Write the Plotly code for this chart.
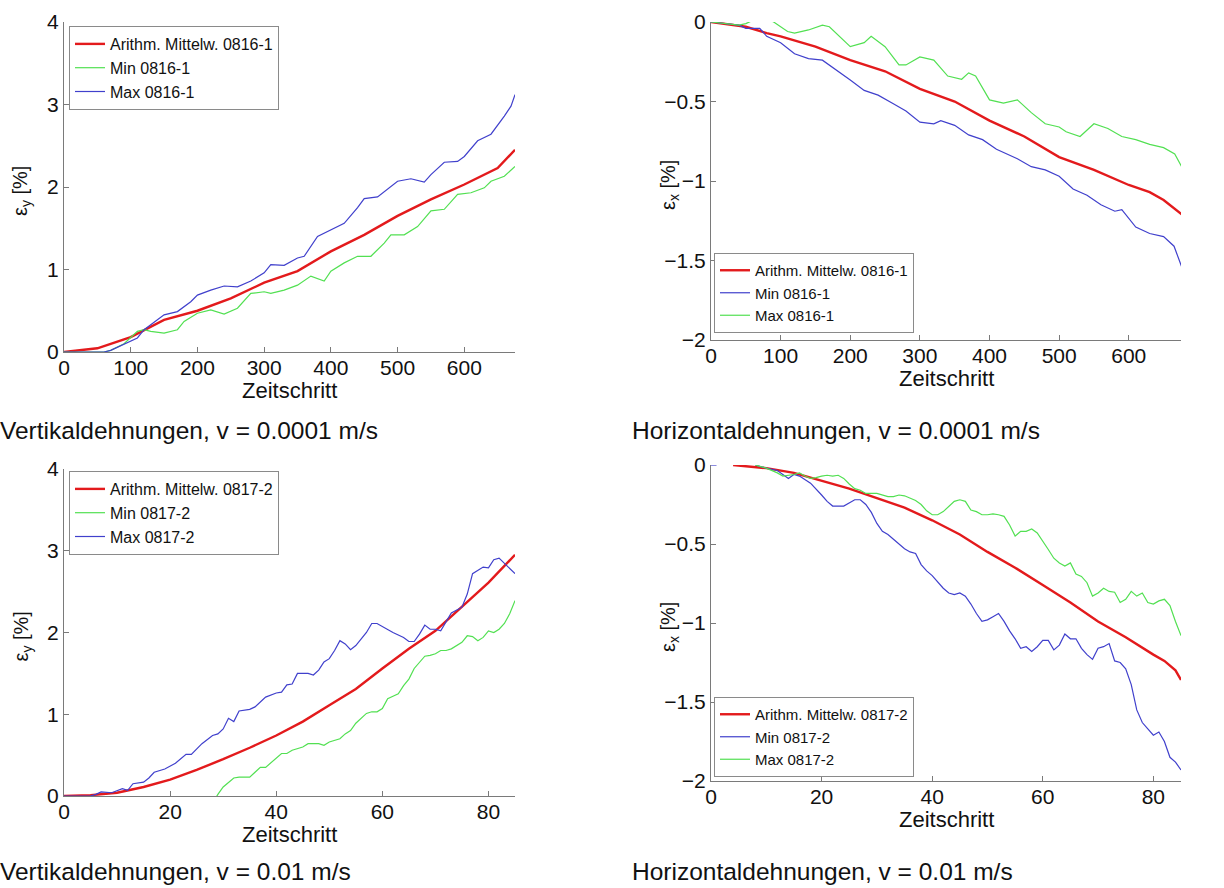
import plotly.graph_objects as go

# ---------------- Data ----------------
# Panel 1: Vertikaldehnungen, v = 0.0001 m/s
p1_mean_x = [0, 50, 100, 150, 200, 250, 300, 350, 400, 450, 500, 550, 600, 650, 676]
p1_mean_y = [0, 0.045, 0.18, 0.39, 0.50, 0.65, 0.84, 0.98, 1.22, 1.42, 1.65, 1.85, 2.03, 2.23, 2.45]
p1_min_x = [0, 30, 60, 70, 90, 110, 120, 130, 150, 170, 180, 200, 220, 240, 260, 280, 300, 310, 330,
            350, 370, 390, 400, 420, 440, 460, 480, 490, 510, 530, 550, 570, 590, 610, 630, 640, 660, 676]
p1_min_y = [0, 0.0, 0.0, 0.02, 0.10, 0.25, 0.27, 0.25, 0.23, 0.27, 0.37, 0.47, 0.51, 0.46, 0.53, 0.71, 0.73, 0.71, 0.75,
            0.81, 0.92, 0.86, 0.98, 1.08, 1.16, 1.16, 1.32, 1.42, 1.42, 1.52, 1.71, 1.73, 1.91, 1.93, 1.99, 2.07, 2.13, 2.25]
p1_max_x = [0, 30, 60, 70, 100, 110, 120, 130, 150, 170, 190, 200, 220, 240, 260, 280, 300, 310, 330, 350, 360,
            380, 400, 420, 440, 450, 470, 490, 500, 520, 540, 550, 570, 590, 600, 620, 640, 660, 670, 676]
p1_max_y = [0, 0.0, 0.0, 0.02, 0.14, 0.17, 0.27, 0.33, 0.45, 0.49, 0.61, 0.69, 0.75, 0.80, 0.79, 0.86, 0.96, 1.06, 1.05, 1.14, 1.16,
            1.40, 1.48, 1.56, 1.75, 1.86, 1.88, 2.01, 2.07, 2.10, 2.06, 2.15, 2.30, 2.31, 2.37, 2.56, 2.64, 2.86, 2.98, 3.12]

# Panel 2: Horizontaldehnungen, v = 0.0001 m/s
p2_mean_x = [0, 50, 80, 100, 150, 200, 250, 300, 350, 400, 450, 500, 550, 600, 630, 650, 676]
p2_mean_y = [0, -0.03, -0.07, -0.09, -0.155, -0.24, -0.31, -0.42, -0.50, -0.62, -0.72, -0.85, -0.93, -1.025, -1.07, -1.12, -1.21]
p2_min_x = [0, 20, 40, 50, 70, 80, 100, 120, 140, 160, 180, 200, 220, 240, 260, 280, 300, 320, 330, 350, 370, 390,
            410, 440, 460, 480, 500, 520, 540, 560, 580, 590, 610, 630, 650, 665, 676]
p2_min_y = [0, -0.01, -0.02, -0.04, -0.04, -0.09, -0.13, -0.20, -0.23, -0.24, -0.30, -0.365, -0.43, -0.46, -0.51, -0.56, -0.63,
            -0.64, -0.62, -0.65, -0.71, -0.74, -0.80, -0.86, -0.91, -0.93, -0.97, -1.05, -1.09, -1.15, -1.19, -1.18, -1.29,
            -1.33, -1.35, -1.41, -1.54]
p2_max_x = [0, 20, 40, 50, 60, 75, 90, 110, 120, 140, 160, 170, 190, 200, 220, 230, 250, 270, 280, 300, 320, 340, 360,
            370, 380, 400, 420, 440, 460, 480, 500, 510, 530, 550, 570, 590, 610, 630, 650, 666, 676]
p2_max_y = [0, -0.01, -0.02, -0.01, 0.01, 0.03, 0.0, -0.06, -0.07, -0.05, -0.02, -0.03, -0.11, -0.155, -0.13, -0.09, -0.155,
            -0.27, -0.27, -0.22, -0.24, -0.34, -0.36, -0.32, -0.34, -0.49, -0.51, -0.49, -0.57, -0.64, -0.66, -0.69, -0.72,
            -0.64, -0.67, -0.72, -0.74, -0.77, -0.79, -0.83, -0.91]

# Panel 3: Vertikaldehnungen, v = 0.01 m/s
p3_mean_x = [0, 5, 10, 15, 20, 25, 30, 35, 40, 45, 50, 55, 60, 65, 70, 75, 80, 85]
p3_mean_y = [0, 0.01, 0.04, 0.11, 0.20, 0.32, 0.45, 0.59, 0.74, 0.91, 1.11, 1.31, 1.56, 1.80, 2.02, 2.31, 2.61, 2.95]
p3_min_x = [28, 29, 30, 31, 32, 33, 35, 36, 37, 38, 39, 40, 41, 42, 43, 45, 46, 48, 49, 50, 52, 53, 54, 55, 56, 57, 58,
            59, 60, 61, 62, 63, 64, 65, 66, 67, 68, 69, 70, 71, 72, 73, 74, 75, 76, 77, 78, 79, 80, 81, 82, 83, 84, 85]
p3_min_y = [-0.09, 0.02, 0.11, 0.17, 0.22, 0.23, 0.23, 0.29, 0.35, 0.35, 0.41, 0.46, 0.52, 0.52, 0.56, 0.60, 0.64, 0.64,
            0.62, 0.66, 0.70, 0.76, 0.80, 0.89, 0.95, 1.01, 1.03, 1.03, 1.07, 1.19, 1.22, 1.25, 1.35, 1.43, 1.56, 1.64,
            1.71, 1.72, 1.74, 1.78, 1.78, 1.80, 1.84, 1.88, 1.96, 1.95, 1.90, 1.94, 2.02, 2.00, 2.04, 2.11, 2.23, 2.39]
p3_max_x = [0, 5, 6, 7, 9, 11, 12, 13, 15, 16, 17, 19, 21, 23, 24, 26, 28, 29, 30, 31, 32, 33, 35, 36, 38, 40, 41, 42,
            43, 44, 46, 47, 48, 49, 50, 51, 52, 53, 54, 55, 57, 58, 59, 60, 62, 64, 65, 66, 67, 68, 69, 70, 71, 72, 73,
            75, 76, 77, 78, 79, 80, 81, 82, 83, 84, 85]
p3_max_y = [0, 0, 0.02, 0.05, 0.04, 0.09, 0.07, 0.15, 0.17, 0.22, 0.29, 0.33, 0.40, 0.51, 0.51, 0.64, 0.74, 0.76, 0.82,
            0.95, 0.91, 1.04, 1.06, 1.09, 1.21, 1.26, 1.27, 1.36, 1.37, 1.50, 1.50, 1.48, 1.54, 1.64, 1.68, 1.78, 1.90,
            1.86, 1.79, 1.84, 2.00, 2.11, 2.11, 2.07, 2.00, 1.94, 1.89, 1.89, 1.98, 2.09, 2.04, 2.04, 2.02, 2.13, 2.24,
            2.31, 2.47, 2.72, 2.76, 2.80, 2.79, 2.89, 2.91, 2.85, 2.78, 2.72]

# Panel 4: Horizontaldehnungen, v = 0.01 m/s
p4_mean_x = [4, 10, 15, 20, 25, 30, 35, 40, 45, 50, 55, 60, 65, 70, 75, 80, 82, 84, 85]
p4_mean_y = [0, -0.02, -0.05, -0.10, -0.15, -0.21, -0.27, -0.35, -0.44, -0.55, -0.65, -0.76, -0.87, -0.99, -1.09,
             -1.20, -1.24, -1.30, -1.36]
p4_min_x = [0, 1, None, 8, 10, 12, 14, 15, 16, 18, 19, 20, 21, 22, 24, 25, 26, 27, 28, 29, 30, 31, 32, 33, 34, 35, 36,
            37, 38, 39, 40, 41, 42, 43, 44, 45, 46, 47, 48, 49, 50, 51, 52, 53, 54, 55, 56, 57, 58, 59, 60, 61, 62,
            63, 64, 65, 66, 67, 68, 69, 70, 71, 72, 73, 74, 75, 76, 77, 78, 79, 80, 81, 82, 83, 84, 85]
p4_min_y = [0, 0, None, 0, -0.02, -0.035, -0.085, -0.06, -0.07, -0.115, -0.15, -0.19, -0.23, -0.26, -0.26, -0.24, -0.22,
            -0.22, -0.25, -0.30, -0.37, -0.42, -0.44, -0.47, -0.50, -0.53, -0.55, -0.56, -0.63, -0.67, -0.70, -0.74,
            -0.78, -0.81, -0.82, -0.81, -0.83, -0.88, -0.94, -0.99, -0.98, -0.96, -0.94, -0.99, -1.05, -1.10, -1.16,
            -1.15, -1.18, -1.15, -1.11, -1.11, -1.17, -1.14, -1.07, -1.10, -1.10, -1.16, -1.20, -1.23, -1.16, -1.15,
            -1.13, -1.24, -1.25, -1.29, -1.39, -1.55, -1.63, -1.67, -1.71, -1.69, -1.75, -1.85, -1.88, -1.93]
p4_max_x = [8, 10, 12, 13, 15, 16, 17, 18, 19, 20, 21, 22, 23, 24, 25, 26, 27, 28, 30, 31, 32, 33, 34, 35, 36, 37, 38,
            39, 40, 41, 42, 43, 44, 45, 46, 47, 48, 49, 50, 51, 52, 53, 54, 55, 56, 57, 58, 59, 60, 61, 62, 63, 64,
            65, 66, 67, 68, 69, 70, 71, 72, 73, 74, 75, 76, 77, 78, 79, 80, 81, 82, 83, 84, 85]
p4_max_y = [0, -0.02, -0.05, -0.07, -0.06, -0.05, -0.07, -0.085, -0.08, -0.07, -0.065, -0.07, -0.065, -0.085, -0.12,
            -0.15, -0.16, -0.18, -0.18, -0.19, -0.20, -0.20, -0.19, -0.195, -0.21, -0.225, -0.25, -0.29, -0.315,
            -0.315, -0.295, -0.26, -0.23, -0.22, -0.23, -0.285, -0.295, -0.315, -0.315, -0.31, -0.315, -0.325, -0.38,
            -0.45, -0.42, -0.42, -0.405, -0.43, -0.48, -0.535, -0.59, -0.62, -0.64, -0.62, -0.69, -0.705, -0.745,
            -0.83, -0.81, -0.78, -0.80, -0.805, -0.87, -0.85, -0.80, -0.83, -0.81, -0.87, -0.88, -0.86, -0.85, -0.89,
            -0.99, -1.08]

captions = ["Vertikaldehnungen, v = 0.0001 m/s", "Horizontaldehnungen, v = 0.0001 m/s",
            "Vertikaldehnungen, v = 0.01 m/s", "Horizontaldehnungen, v = 0.01 m/s"]

# ---------------- Styling ----------------
FONT = "Liberation Sans, Arial, Helvetica, sans-serif"
RED = "#e31a1c"
GREEN = "#52e052"
BLUE = "#4040cc"
AXC = "#7a7a7a"
W, H = 1224, 888


def px_x(v):
    return v / W


def px_y(v):
    return 1 - v / H


def fmt_tick(v):
    s = ("%g" % abs(v))
    return ("\u2212" + s) if v < 0 else s


fig = go.Figure()

panels = [
    dict(ax="", xd=(64, 515), yd=(22, 352), xr=[0, 676], yr=[0, 4], yt=[0, 1, 2, 3, 4],
         xt=[0, 100, 200, 300, 400, 500, 600], yl="y", leg="legend", lfs=16,
         lpos=dict(x=69, y=26, anchor="top"),
         series=[("Arithm. Mittelw. 0816-1", p1_mean_x, p1_mean_y, RED, 2.4),
                 ("Min 0816-1", p1_min_x, p1_min_y, GREEN, 1.2),
                 ("Max 0816-1", p1_max_x, p1_max_y, BLUE, 1.2)]),
    dict(ax="2", xd=(711, 1181), yd=(22, 340), xr=[0, 675], yr=[-2, 0], yt=[-2, -1.5, -1, -0.5, 0],
         xt=[0, 100, 200, 300, 400, 500, 600], yl="x", leg="legend2", lfs=15,
         lpos=dict(x=714, y=333, anchor="bottom"),
         series=[("Arithm. Mittelw. 0816-1", p2_mean_x, p2_mean_y, RED, 2.4),
                 ("Min 0816-1", p2_min_x, p2_min_y, BLUE, 1.2),
                 ("Max 0816-1", p2_max_x, p2_max_y, GREEN, 1.2)]),
    dict(ax="3", xd=(64, 515), yd=(469, 796), xr=[0, 85], yr=[0, 4], yt=[0, 1, 2, 3, 4],
         xt=[0, 20, 40, 60, 80], yl="y", leg="legend3", lfs=16,
         lpos=dict(x=69, y=471, anchor="top"),
         series=[("Arithm. Mittelw. 0817-2", p3_mean_x, p3_mean_y, RED, 2.4),
                 ("Min 0817-2", p3_min_x, p3_min_y, GREEN, 1.2),
                 ("Max 0817-2", p3_max_x, p3_max_y, BLUE, 1.2)]),
    dict(ax="4", xd=(711, 1181), yd=(465, 781), xr=[0, 85], yr=[-2, 0], yt=[-2, -1.5, -1, -0.5, 0],
         xt=[0, 20, 40, 60, 80], yl="x", leg="legend4", lfs=15,
         lpos=dict(x=714, y=777, anchor="bottom"),
         series=[("Arithm. Mittelw. 0817-2", p4_mean_x, p4_mean_y, RED, 2.4),
                 ("Min 0817-2", p4_min_x, p4_min_y, BLUE, 1.2),
                 ("Max 0817-2", p4_max_x, p4_max_y, GREEN, 1.2)]),
]

layout = dict(
    width=W, height=H, margin=dict(l=0, r=0, t=0, b=0),
    paper_bgcolor="white", plot_bgcolor="white",
    font=dict(family=FONT, color="#111", size=20),
    showlegend=True,
)
annotations = []

for p in panels:
    xa = "x" + p["ax"]
    ya = "y" + p["ax"]
    for name, xs, ys, col, lw in p["series"]:
        fig.add_trace(go.Scatter(x=xs, y=ys, mode="lines", name=name,
                                 line=dict(color=col, width=lw),
                                 xaxis=xa, yaxis=ya, legend=p["leg"],
                                 connectgaps=False, cliponaxis=True))
    axis_common = dict(showline=True, linecolor=AXC, linewidth=1, ticks="inside", ticklen=5,
                       tickcolor=AXC, showgrid=False, zeroline=False, mirror=False,
                       automargin=False,
                       tickfont=dict(family=FONT, size=21, color="#111"))
    layout["xaxis" + p["ax"]] = dict(
        domain=[px_x(p["xd"][0]), px_x(p["xd"][1])], range=p["xr"], anchor=ya,
        tickvals=p["xt"], ticktext=[fmt_tick(v) for v in p["xt"]],
        ticklabelstandoff=-3, **axis_common)
    layout["yaxis" + p["ax"]] = dict(
        domain=[px_y(p["yd"][1]), px_y(p["yd"][0])], range=p["yr"], anchor=xa,
        tickvals=p["yt"], ticktext=[fmt_tick(v) for v in p["yt"]], **axis_common)
    lp = p["lpos"]
    layout[p["leg"]] = dict(x=px_x(lp["x"]), y=px_y(lp["y"]), xanchor="left", yanchor=lp["anchor"],
                            bgcolor="white", bordercolor="#8a8a8a", borderwidth=1,
                            font=dict(family=FONT, size=p["lfs"], color="#111"),
                            tracegroupgap=0, itemwidth=30, traceorder="normal")
    # x-axis title
    xc = (p["xd"][0] + p["xd"][1]) / 2
    annotations.append(dict(text="Zeitschritt", x=px_x(xc), y=px_y(p["yd"][1] + 38),
                            xref="paper", yref="paper", showarrow=False,
                            xanchor="center", yanchor="middle",
                            font=dict(family=FONT, size=22, color="#111")))
    # y-axis title
    yc = (p["yd"][0] + p["yd"][1]) / 2 + 4
    ytxt = "\u03b5<sub>" + p["yl"] + "</sub> [%]"
    annotations.append(dict(text=ytxt, x=px_x(p["xd"][0] - 42), y=px_y(yc),
                            xref="paper", yref="paper", showarrow=False, textangle=-90,
                            xanchor="center", yanchor="middle",
                            font=dict(family=FONT, size=20, color="#111")))

# captions
cap_pos = [(-2, 430), (630, 430), (-2, 871), (630, 871)]
for txt, (cx, cy) in zip(captions, cap_pos):
    annotations.append(dict(text=txt, x=px_x(cx), y=px_y(cy), xref="paper", yref="paper",
                            showarrow=False, xanchor="left", yanchor="middle",
                            font=dict(family=FONT, size=24.5, color="#111")))

layout["annotations"] = annotations
fig.update_layout(**layout)
fig.write_html("out.html", config={"displayModeBar": False},
               post_script="document.body.style.margin='0';document.body.style.padding='0';"
                           "document.documentElement.style.overflow='hidden';")
